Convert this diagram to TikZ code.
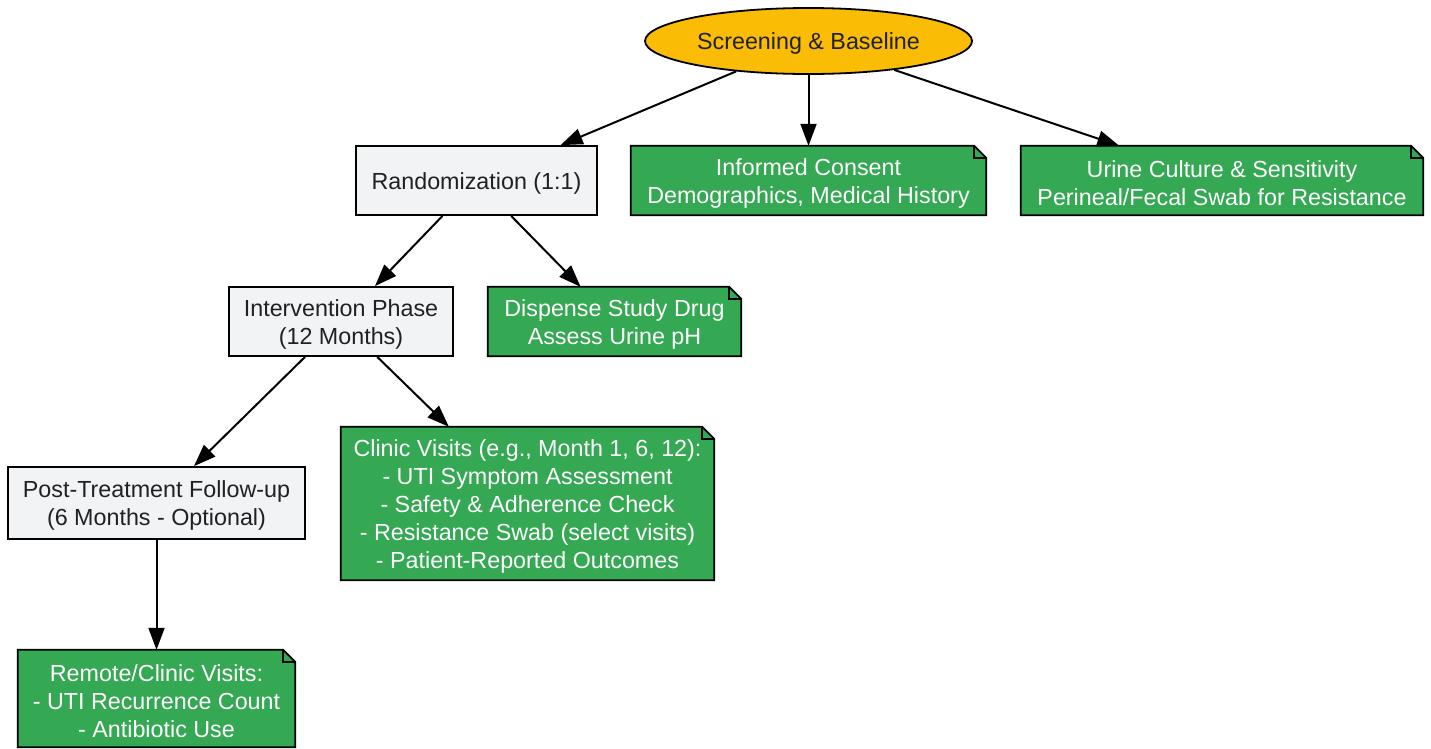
\documentclass[tikz,border=0pt]{standalone}
\usepackage{fontspec}
\setmainfont{Liberation Sans}
\usetikzlibrary{shapes.geometric,arrows.meta,backgrounds}
\definecolor{notegreen}{HTML}{34A853}
\definecolor{startyellow}{HTML}{FBBC05}
\definecolor{boxgray}{HTML}{F1F3F4}
\definecolor{txtdark}{HTML}{202124}
\newcommand\lowr{\rule{0pt}{22pt}}
\newcommand\notebg[1]{%
  \filldraw[fill=notegreen,draw=black,line width=1.8pt,line join=miter]
    (#1.south west) -- (#1.north west) -- ([xshift=-12pt]#1.north east)
    -- ([yshift=-12pt]#1.north east) -- (#1.south east) -- cycle;
  \draw[line width=1.8pt] ([xshift=-12pt]#1.north east) -- ([xshift=-12pt,yshift=-12pt]#1.north east)
    -- ([yshift=-12pt]#1.north east);}
\begin{document}
\begin{tikzpicture}[x=1pt,y=-1pt,
  every node/.style={font=\fontsize{23.3}{28}\selectfont, align=center, inner sep=0pt},
  startnode/.style={ellipse, fill=startyellow, draw=black, line width=1.8pt, text=txtdark},
  phasebox/.style={rectangle, fill=boxgray, draw=black, line width=1.8pt, text=txtdark},
  notebox/.style={rectangle, text=white},
  conn/.style={line width=2pt, -{Triangle[length=22pt,width=16pt]}}]
\useasboundingbox (0,0) rectangle (1431,748);
\node[startnode, minimum width=327pt, minimum height=66pt] (scr) at (808.5,41) {\lowr Screening \& Baseline};
\node[phasebox, minimum width=241pt, minimum height=69pt] (rand) at (476.5,180.5) {\lowr Randomization (1:1)};
\node[notebox, minimum width=355pt, minimum height=69pt] (consent) at (808.5,180.5) {\lowr Informed Consent\\Demographics, Medical History};
\node[notebox, minimum width=402pt, minimum height=69pt] (urine) at (1222,180.5) {\lowr Urine Culture \& Sensitivity\\Perineal/Fecal Swab for Resistance};
\node[phasebox, minimum width=224pt, minimum height=69pt] (interv) at (341,321.5) {\lowr Intervention Phase\\(12 Months)};
\node[notebox, minimum width=253pt, minimum height=69pt] (disp) at (614.5,321.5) {\lowr Dispense Study Drug\\Assess Urine pH};
\node[phasebox, minimum width=297pt, minimum height=72pt] (post) at (156.5,503) {\lowr Post-Treatment Follow-up\\(6 Months - Optional)};
\node[notebox, minimum width=373pt, minimum height=153pt] (clinic) at (527.5,503.5) {\lowr Clinic Visits (e.g., Month 1, 6, 12):\\- UTI Symptom Assessment\\- Safety \& Adherence Check\\- Resistance Swab (select visits)\\- Patient-Reported Outcomes};
\node[notebox, minimum width=277pt, minimum height=97pt] (remote) at (156.5,698.5) {\lowr Remote/Clinic Visits:\\- UTI Recurrence Count\\- Antibiotic Use};
\begin{scope}[on background layer]
\notebg{consent}
\notebg{urine}
\notebg{disp}
\notebg{clinic}
\notebg{remote}
\end{scope}
\draw[conn] (scr) -- (rand);
\draw[conn] (scr) -- (consent);
\draw[conn] (scr) -- (urine);
\draw[conn] (rand) -- (interv);
\draw[conn] (rand) -- (disp);
\draw[conn] (interv) -- (post);
\draw[conn] (interv) -- (clinic);
\draw[conn] (post) -- (remote);
\end{tikzpicture}
\end{document}
